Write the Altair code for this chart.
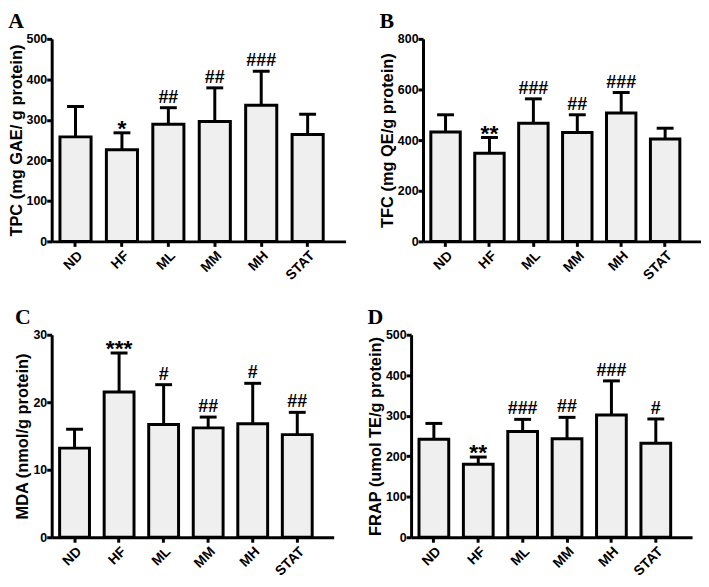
import altair as alt
import pandas as pd

cats = ["ND", "HF", "ML", "MM", "MH", "STAT"]

tpc_mean = [258, 226, 289, 296, 336, 264]
tpc_upper = [333, 268, 330, 379, 420, 314]
tpc_sig = ["", "*", "##", "##", "###", ""]

tfc_mean = [432, 348, 467, 430, 507, 404]
tfc_upper = [500, 410, 563, 500, 588, 447]
tfc_sig = ["", "**", "###", "##", "###", ""]

mda_mean = [13.2, 21.5, 16.7, 16.2, 16.8, 15.2]
mda_upper = [16.0, 27.3, 22.6, 17.8, 22.8, 18.5]
mda_sig = ["", "***", "#", "##", "#", "##"]

frap_mean = [242, 180, 261, 243, 302, 232]
frap_upper = [281, 198, 291, 296, 386, 292]
frap_sig = ["", "**", "###", "##", "###", "#"]

FONT = "Liberation Sans"


def panel(letter, mean, upper, sig, ytitle, ymax, step, width):
    df = pd.DataFrame({"cat": cats, "mean": mean, "upper": upper, "sig": sig})
    xs = alt.Scale(paddingInner=0.33, paddingOuter=0.33, align=0.27)
    xa = alt.Axis(labelAngle=-45, labelAlign="right", labelBaseline="top", title=None,
                  labelFontSize=14, labelPadding=2)
    ys = alt.Scale(domain=[0, ymax], nice=False)
    ticks = [v for v in range(0, int(ymax) + 1, step)]
    ya = alt.Axis(values=ticks, title=ytitle, titlePadding=2, labelPadding=0)
    X = alt.X("cat:N", sort=cats, scale=xs, axis=xa)
    base = alt.Chart(df)
    bars = base.mark_bar(fill="#efefef", stroke="black", strokeWidth=3).encode(
        x=X, y=alt.Y("mean:Q", scale=ys, axis=ya)
    )
    err = base.mark_rule(color="black", strokeWidth=3).encode(
        x=X, y=alt.Y("mean:Q", scale=ys, axis=ya), y2="upper:Q"
    )
    cap = base.mark_tick(color="black", thickness=3, size=17, opacity=1).encode(
        x=X, y=alt.Y("upper:Q", scale=ys, axis=ya)
    )
    hashes = base.transform_filter("indexof(datum.sig, '#') >= 0").mark_text(
        font=FONT, fontWeight="bold", fontSize=18, baseline="alphabetic", dy=-5, color="black"
    ).encode(x=X, y=alt.Y("upper:Q", scale=ys, axis=ya), text="sig:N")
    stars = base.transform_filter("indexof(datum.sig, '*') >= 0").mark_text(
        font=FONT, fontWeight="bold", fontSize=23, baseline="alphabetic", dy=3, color="black"
    ).encode(x=X, y=alt.Y("upper:Q", scale=ys, axis=ya), text="sig:N")
    return alt.layer(bars, err, cap, hashes, stars).properties(
        width=width,
        height=204,
        title=alt.TitleParams(
            letter, anchor="start", frame="bounds", font="Liberation Serif",
            fontSize=22, fontWeight="bold", color="black", offset=0,
        ),
    )


A = panel("A", tpc_mean, tpc_upper, tpc_sig, "TPC (mg GAE/ g protein)", 500, 100, 296)
B = panel("B", tfc_mean, tfc_upper, tfc_sig, "TFC (mg QE/g protein)", 800, 200, 280)
C = panel("C", mda_mean, mda_upper, mda_sig, "MDA (nmol/g protein)", 30, 10, 284)
D = panel("D", frap_mean, frap_upper, frap_sig, "FRAP (umol TE/g protein)", 500, 100, 283)

chart = alt.vconcat(
    alt.hconcat(A, B, spacing=34),
    alt.hconcat(C, D, spacing=34),
    spacing=23,
).properties(padding=0).configure_view(stroke=None).configure_axis(
    domainColor="black", domainWidth=3, tickColor="black", tickWidth=3, tickSize=5,
    labelFont=FONT, labelFontWeight="bold", labelFontSize=12.5, labelColor="black",
    titleFont=FONT, titleFontWeight="bold", titleFontSize=16.5, titleColor="black",
    grid=False,
)

chart.save("out.html", embed_options={"renderer": "svg", "actions": False})
